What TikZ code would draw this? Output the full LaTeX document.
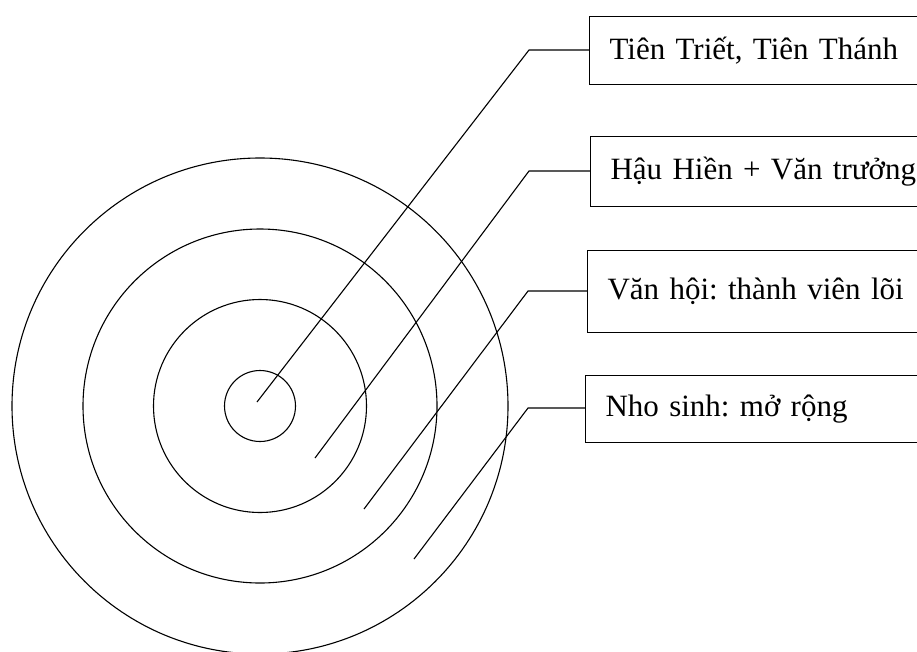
\documentclass[tikz,border=0pt]{standalone}
\usepackage{fontspec}
\setmainfont{Liberation Serif}
\frenchspacing
\tikzset{
    ring/.style={draw, line width=1.1pt},
    lead/.style={draw, line width=1.1pt},
    labelbox/.style={draw, line width=1.1pt, anchor=north west, text width=330pt, align=left,
        inner xsep=20pt, font=\fontsize{31}{37}\selectfont}
}

\begin{document}
\begin{tikzpicture}[x=1pt, y=-1pt]
    \useasboundingbox (0,0) rectangle (917,651);
    \clip (0,0) rectangle (917,651);
    \coordinate (c) at (260,406);
    \foreach \r in {35.5,106.5,177,248}
        \draw[ring] (c) circle (\r);
    \node[labelbox, minimum height=68pt] (b1) at (589,16) {Tiên Triết, Tiên Thánh};
    \node[labelbox, minimum height=70pt] (b2) at (590,136) {Hậu Hiền + Văn trưởng};
    \node[labelbox, minimum height=82pt] (b3) at (587,250) {Văn hội: thành viên lõi};
    \node[labelbox, minimum height=67pt] (b4) at (585,375) {Nho sinh: mở rộng};
    \coordinate (p1) at (257,402);
    \coordinate (p2) at (315,458);
    \coordinate (p3) at (364,509);
    \coordinate (p4) at (414,559);
    \coordinate (e1) at (529,50);
    \coordinate (e2) at (529,171);
    \coordinate (e3) at (528,291);
    \coordinate (e4) at (528,408);
    \draw[lead] (p1) -- (e1) -- (e1 -| b1.west);
    \draw[lead] (p2) -- (e2) -- (e2 -| b2.west);
    \draw[lead] (p3) -- (e3) -- (e3 -| b3.west);
    \draw[lead] (p4) -- (e4) -- (e4 -| b4.west);
\end{tikzpicture}
\end{document}
